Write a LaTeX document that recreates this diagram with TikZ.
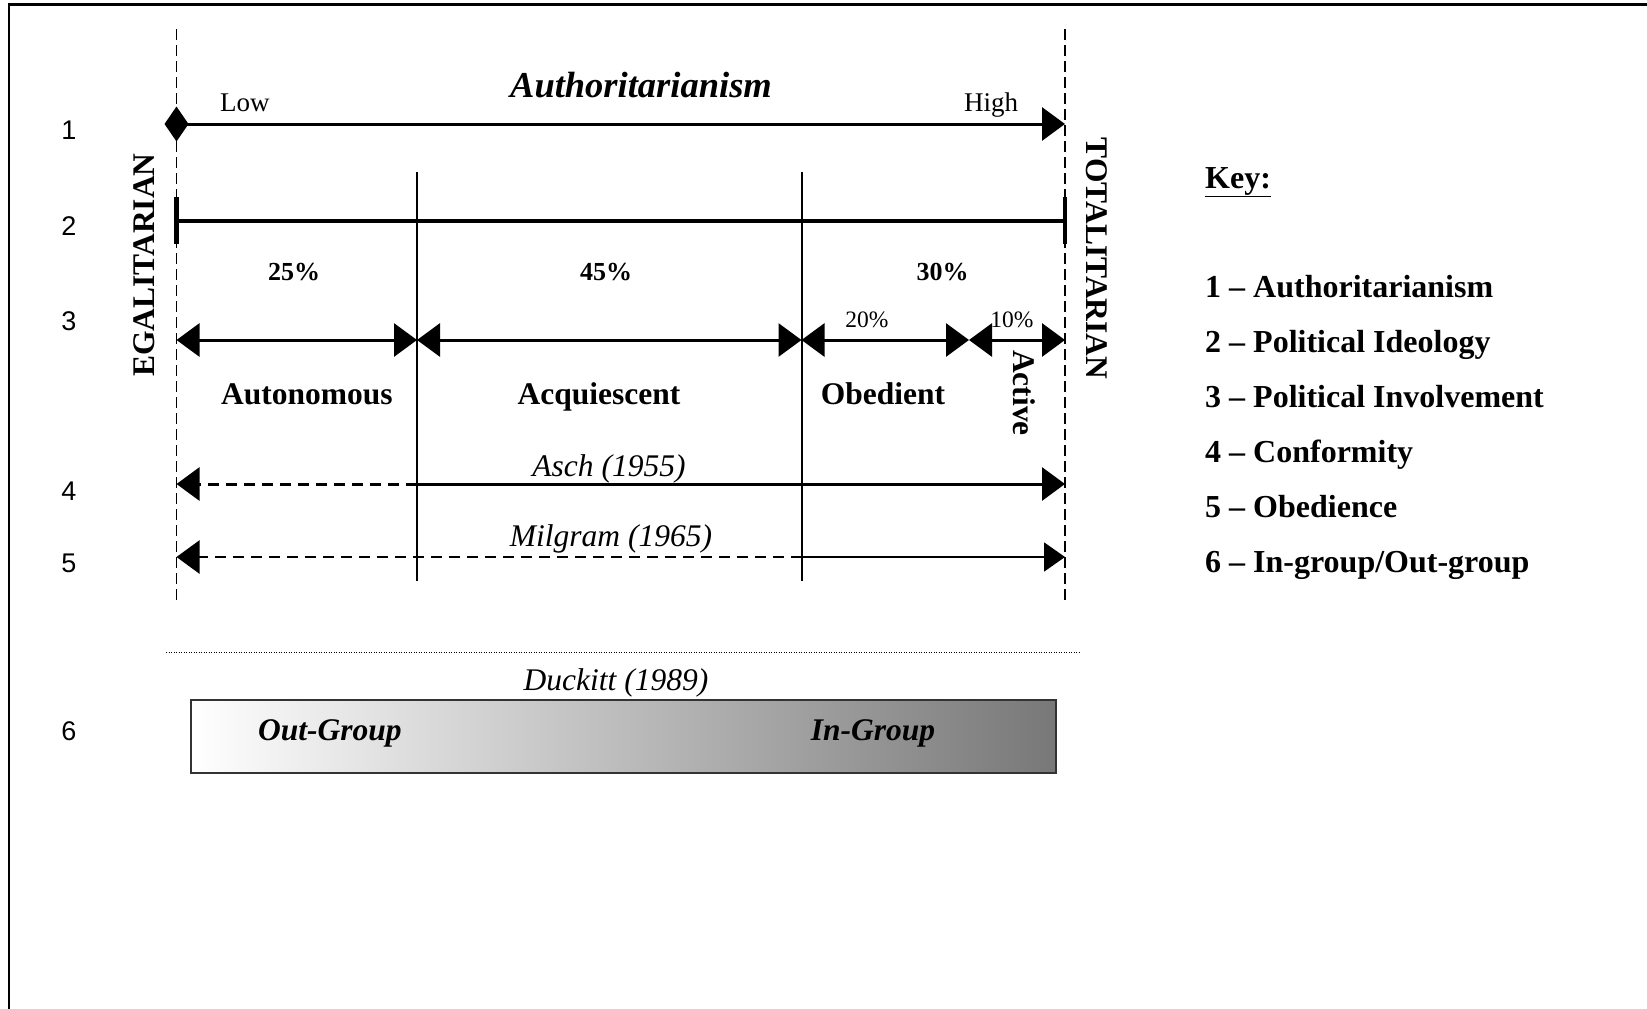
\documentclass[tikz,border=0pt]{standalone}
\usepackage{fontspec}
\setmainfont{Liberation Serif}
\newfontfamily\rowfont{Liberation Sans}
\usepackage{tikz}
\usetikzlibrary{arrows.meta, positioning}
\tikzset{x=1pt, y=-1pt, >={Triangle[length=23pt, width=33pt]},
	bound/.style={line width=1.8pt, dash pattern=on 11pt off 5pt},
	divider/.style={line width=2pt},
	scale line/.style={line width=3pt},
	part line/.style={line width=3pt, dash pattern=on 11pt off 7pt},
	row label/.style={anchor=base, font=\fontsize{27}{32}\selectfont\rowfont},
	pole/.style={font=\fontsize{31.5}{36}\selectfont\bfseries},
	share/.style={anchor=base, font=\fontsize{26}{30}\selectfont\bfseries},
	sub share/.style={anchor=base, font=\fontsize{23.5}{28}\selectfont},
	type/.style={anchor=base, font=\fontsize{31.5}{36}\selectfont\bfseries},
	study/.style={anchor=base, font=\fontsize{31.5}{36}\selectfont\itshape},
	group/.style={anchor=base, font=\fontsize{31.5}{36}\selectfont\bfseries\itshape},
	key item/.style={font=\fontsize{32}{38}\selectfont\bfseries}}

\begin{document}
\begin{tikzpicture}[every node/.style={inner sep=0pt}]
	\useasboundingbox (0,0) rectangle (1647,1009);
	\draw[line width=2.5pt] (9,1012) -- (9,4.5) -- (1650,4.5);

	% end points
	\coordinate (Egal Top) at (176.5,29);
	\coordinate (Egal Bottom) at (176.5,605);
	\coordinate (Total Top) at (1065,29);
	\coordinate (Total Bottom) at (1065,605);
	\coordinate (Cut A Top) at (417,172);
	\coordinate (Cut A Bottom) at (417,581);
	\coordinate (Cut B Top) at (801.5,172);
	\coordinate (Cut B Bottom) at (801.5,581);
	\coordinate (Low End) at (164.5,124);
	\coordinate (High End) at (1065,124);
	\coordinate (Ideology L) at (176.5,220.5);
	\coordinate (Ideology R) at (1065,220.5);
	\coordinate (Ideology L Top) at (176.5,197);
	\coordinate (Ideology L Bottom) at (176.5,244);
	\coordinate (Ideology R Top) at (1065,197);
	\coordinate (Ideology R Bottom) at (1065,244);
	\coordinate (Inv 0) at (176.5,340);
	\coordinate (Inv 1) at (417,340);
	\coordinate (Inv 2) at (801.5,340);
	\coordinate (Inv 3) at (969,340);
	\coordinate (Inv 4) at (1065,340);
	\coordinate (Asch L) at (176.5,484);
	\coordinate (Asch M) at (417,484);
	\coordinate (Asch R) at (1065,484);
	\coordinate (Milgram L) at (176.5,557);
	\coordinate (Milgram M) at (801.5,557);
	\coordinate (Milgram R) at (1065,557);
	\coordinate (Rule L) at (166,652);
	\coordinate (Rule R) at (1080,652);

	\draw[bound] (Egal Top) -- (Egal Bottom);
	\draw[bound] (Total Top) -- (Total Bottom);
	\draw[divider] (Cut A Top) -- (Cut A Bottom);
	\draw[divider] (Cut B Top) -- (Cut B Bottom);

	\draw[scale line, {Diamond[length=24pt, width=35pt]}->] (Low End) -- (High End);
	\draw[line width=4pt] (Ideology L) -- (Ideology R);
	\draw[line width=4.5pt]
		(Ideology L Top) edge (Ideology L Bottom)
		(Ideology R Top) edge (Ideology R Bottom);
	\draw[scale line]
		(Inv 0) edge[<->] (Inv 1)
		(Inv 1) edge[<->] (Inv 2)
		(Inv 2) edge[<->] (Inv 3)
		(Inv 3) edge[<->] (Inv 4);
	\draw[part line, ->] (Asch M) -- (Asch L);
	\draw[scale line, ->] (Asch M) -- (Asch R);
	\draw[part line, line width=2.5pt, ->] (Milgram M) -- (Milgram L);
	\draw[line width=2pt, -{Triangle[length=21pt, width=29pt]}] (Milgram M) -- (Milgram R);
	\draw[line width=1pt, dash pattern=on 1pt off 1.5pt] (Rule L) -- (Rule R);

	% labels
	\node[font=\fontsize{36.5}{42}\selectfont\bfseries\itshape, anchor=base] (Title) at (641,97) {Authoritarianism};
	\node[font=\fontsize{27}{32}\selectfont, anchor=base west] (Low) at (220,111) {Low};
	\node[font=\fontsize{27}{32}\selectfont, anchor=base west] (High) at (964,111) {High};
	\node[pole, rotate=90] (Egalitarian) at (144,265) {EGALITARIAN};
	\node[pole, rotate=-90] (Totalitarian) at (1097,258.5) {TOTALITARIAN};
	\node[share] (Share A) at (294,280) {25\%};
	\node[share] (Share B) at (606,280) {45\%};
	\node[share] (Share C) at (942.5,280) {30\%};
	\node[sub share] (Share C1) at (867,327) {20\%};
	\node[sub share] (Share C2) at (1012,327) {10\%};
	\node[type] (Autonomous) at (307,404) {Autonomous};
	\node[type] (Acquiescent) at (599,404) {Acquiescent};
	\node[type] (Obedient) at (883,404) {Obedient};
	\node[type, anchor=center, rotate=-90] (Active) at (1024,393) {Active};
	\node[study] (Asch) at (609,476) {Asch (1955)};
	\node[study] (Milgram) at (611,546) {Milgram (1965)};
	\node[study] (Duckitt) at (616,690) {Duckitt (1989)};
	\node[draw=black!80, line width=2pt, left color=white, right color=black!53, minimum width=865pt, minimum height=73pt] (Group Bar) at (623.5,736.5) {};
	\node[group] (Out Group) at (330,740) {Out-Group};
	\node[group] (In Group) at (873,740) {In-Group};

	% row numbers
	\node[row label] (Row 1) at (69,139) {1};
	\node[row label] (Row 2) at (69,235) {2};
	\node[row label] (Row 3) at (69,330) {3};
	\node[row label] (Row 4) at (69,500) {4};
	\node[row label] (Row 5) at (69,572) {5};
	\node[row label] (Row 6) at (69,740) {6};

	% key
	\node[key item, anchor=base west] (Key) at (1205,188) {\underline{Key:}};
	\node[key item, anchor=base west] (Key 1) at (1205,297) {1 -- Authoritarianism};
	\node[key item, below=55pt of Key 1.base west, anchor=base west] (Key 2) {2 -- Political Ideology};
	\node[key item, below=55pt of Key 2.base west, anchor=base west] (Key 3) {3 -- Political Involvement};
	\node[key item, below=55pt of Key 3.base west, anchor=base west] (Key 4) {4 -- Conformity};
	\node[key item, below=55pt of Key 4.base west, anchor=base west] (Key 5) {5 -- Obedience};
	\node[key item, below=55pt of Key 5.base west, anchor=base west] (Key 6) {6 -- In-group/Out-group};
\end{tikzpicture}
\end{document}
